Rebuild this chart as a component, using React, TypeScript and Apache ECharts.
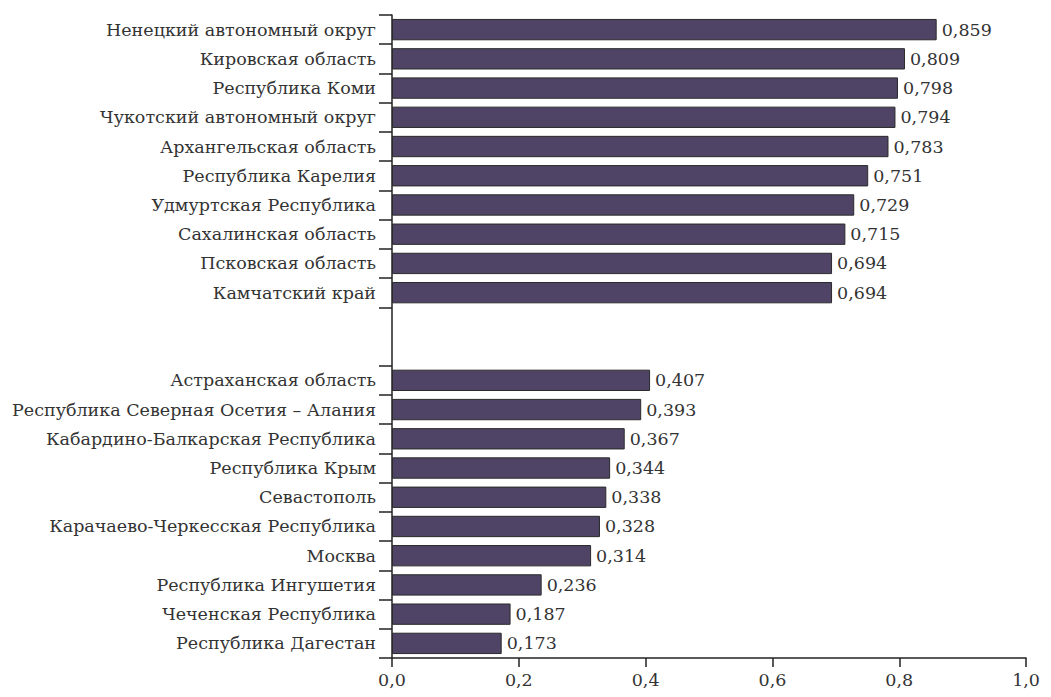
import React, { useEffect, useRef } from "react";
import * as echarts from "echarts";

const categories = [
  "Ненецкий автономный округ",
  "Кировская область",
  "Республика Коми",
  "Чукотский автономный округ",
  "Архангельская область",
  "Республика Карелия",
  "Удмуртская Республика",
  "Сахалинская область",
  "Псковская область",
  "Камчатский край",
  "",
  " ",
  "Астраханская область",
  "Республика Северная Осетия – Алания",
  "Кабардино-Балкарская Республика",
  "Республика Крым",
  "Севастополь",
  "Карачаево-Черкесская Республика",
  "Москва",
  "Республика Ингушетия",
  "Чеченская Республика",
  "Республика Дагестан",
];

const values: (number | null)[] = [
  0.859, 0.809, 0.798, 0.794, 0.783, 0.751, 0.729, 0.715, 0.694, 0.694,
  null, null,
  0.407, 0.393, 0.367, 0.344, 0.338, 0.328, 0.314, 0.236, 0.187, 0.173,
];

const xTicks = [0, 0.2, 0.4, 0.6, 0.8, 1.0];

const FONT = "DejaVu Serif";
const TEXT = "#333333";
const FS = 17.5;

const tickIdx = categories.map((_, i) => i).filter((i) => i !== 11);

export default function App() {
  const ref = useRef<HTMLDivElement>(null);
  useEffect(() => {
    const chart = echarts.init(ref.current!, undefined, { renderer: "svg" });
    chart.setOption({
      animation: false,
      textStyle: { fontFamily: FONT },
      grid: { left: 384, right: 6, top: 7, bottom: 28, containLabel: false },
      xAxis: {
        type: "value",
        min: xTicks[0],
        max: xTicks[xTicks.length - 1],
        interval: 0.2,
        splitLine: { show: false },
        axisLine: { show: true, lineStyle: { color: "#222", width: 1.5 } },
        axisTick: { show: true, length: 9, lineStyle: { color: "#222", width: 1.5 } },
        axisLabel: {
          fontFamily: FONT,
          fontSize: FS,
          color: TEXT,
          margin: 13,
          formatter: (v: number) => v.toFixed(1).replace(".", ","),
        },
      },
      yAxis: {
        type: "category",
        inverse: true,
        data: categories,
        axisLine: { show: true, lineStyle: { color: "#222", width: 1.5 } },
        axisTick: {
          show: true,
          length: 13,
          customValues: tickIdx,
          lineStyle: { color: "#222", width: 1.5 },
        },
        axisLabel: {
          fontFamily: FONT,
          fontSize: FS,
          color: TEXT,
          margin: 16,
          interval: 0,
        },
      },
      series: [
        {
          type: "bar",
          data: values,
          barCategoryGap: "27%",
          itemStyle: { color: "#4f4466", borderColor: "#2a2a2a", borderWidth: 1 },
          label: {
            show: true,
            position: "right",
            distance: 5,
            fontFamily: FONT,
            fontSize: FS,
            color: TEXT,
            formatter: (p: any) => p.value.toFixed(3).replace(".", ","),
          },
        },
      ],
    });
    return () => chart.dispose();
  }, []);
  return <div ref={ref} style={{ width: 1035, height: 681 }} />;
}
